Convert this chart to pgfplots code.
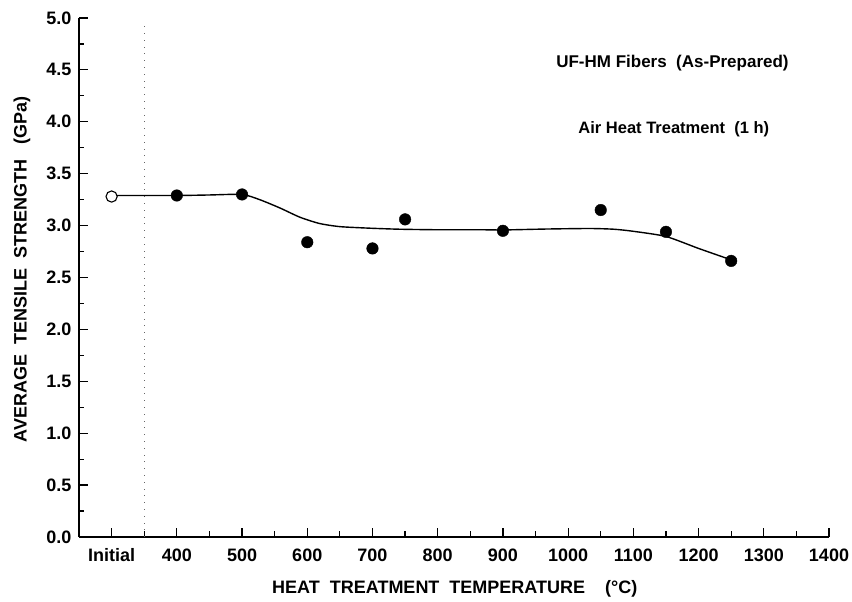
\documentclass[border=0pt]{standalone}
\usepackage{pgfplots}
\pgfplotsset{compat=1.18}
\usepackage{fontspec}
\setmainfont{Liberation Sans}
\begin{document}
\begin{tikzpicture}[x=1pt,y=1pt]
\path[use as bounding box] (0,0) rectangle (852,602);
\begin{axis}[
  at={(79pt,65pt)}, anchor=south west,
  scale only axis, width=750pt, height=519pt,
  xmin=250, xmax=1400, ymin=0, ymax=5,
  axis lines=left, axis line style={-, line width=1.3pt},
  tick align=inside,
  major tick length=9pt, minor tick length=5.5pt,
  tick style={line width=1.2pt, black},
  xtick={300,400,500,600,700,800,900,1000,1100,1200,1300,1400},
  xticklabels={Initial,400,500,600,700,800,900,1000,1100,1200,1300,1400},
  minor xtick={350,450,...,1350},
  ytick={0,0.5,...,5.0},
  minor ytick={0.25,0.75,...,4.75},
  /pgf/number format/assume math mode=true,
  yticklabel style={/pgf/number format/fixed, /pgf/number format/precision=1, /pgf/number format/fixed zerofill, xshift=-4pt},
  xticklabel style={yshift=-8pt},
  ticklabel style={font=\bfseries\fontsize{18}{20}\selectfont},
  xlabel={HEAT\ \ TREATMENT\ \ TEMPERATURE\ \ \ \ (\textdegree C)},
  ylabel={AVERAGE\ \ TENSILE\ \ STRENGTH\ \ \ (GPa)},
  label style={font=\bfseries\fontsize{18}{20}\selectfont},
  xlabel style={at={(axis description cs:0.501,-0.10)}, anchor=center},
  ylabel style={at={(axis description cs:-0.076,0.515)}, anchor=center, rotate=0},
  clip=false,
]
% dotted axis-break line
\addplot[black!60, line width=0.8pt, dash pattern=on 0.8pt off 6pt] coordinates {(350,0) (350,4.95)};
% smooth fitted curve
\addplot[black, line width=1.4pt, smooth, tension=0.4] coordinates {
(300,3.29) (400,3.29) (450,3.295) (500,3.30) (527,3.25) (558,3.17) (589,3.08) (619,3.02) (650,2.99) (696,2.975) (742,2.965) (800,2.96) (865,2.96) (900,2.958) (967,2.967) (1033,2.972) (1070,2.965) (1100,2.945) (1150,2.895) (1200,2.78) (1250,2.67)
};
% heat-treated data
\addplot[only marks, mark=*, mark size=5.8pt, black] coordinates {
(400,3.29) (500,3.30) (600,2.84) (700,2.78) (750,3.06) (900,2.95) (1050,3.15) (1150,2.94) (1250,2.66)
};
% initial (as-prepared)
\addplot[only marks, mark=*, mark size=5.6pt, black, line width=1.1pt, fill=white, mark options={fill=white}] coordinates {(300,3.28)};
\node[font=\bfseries\fontsize{17}{19}\selectfont] at (axis cs:1160,4.57) {UF-HM Fibers\ \ (As-Prepared)};
\node[font=\bfseries\fontsize{16.5}{18}\selectfont] at (axis cs:1162,3.93) {Air Heat Treatment\ \ (1 h)};
\end{axis}
\end{tikzpicture}
\end{document}
